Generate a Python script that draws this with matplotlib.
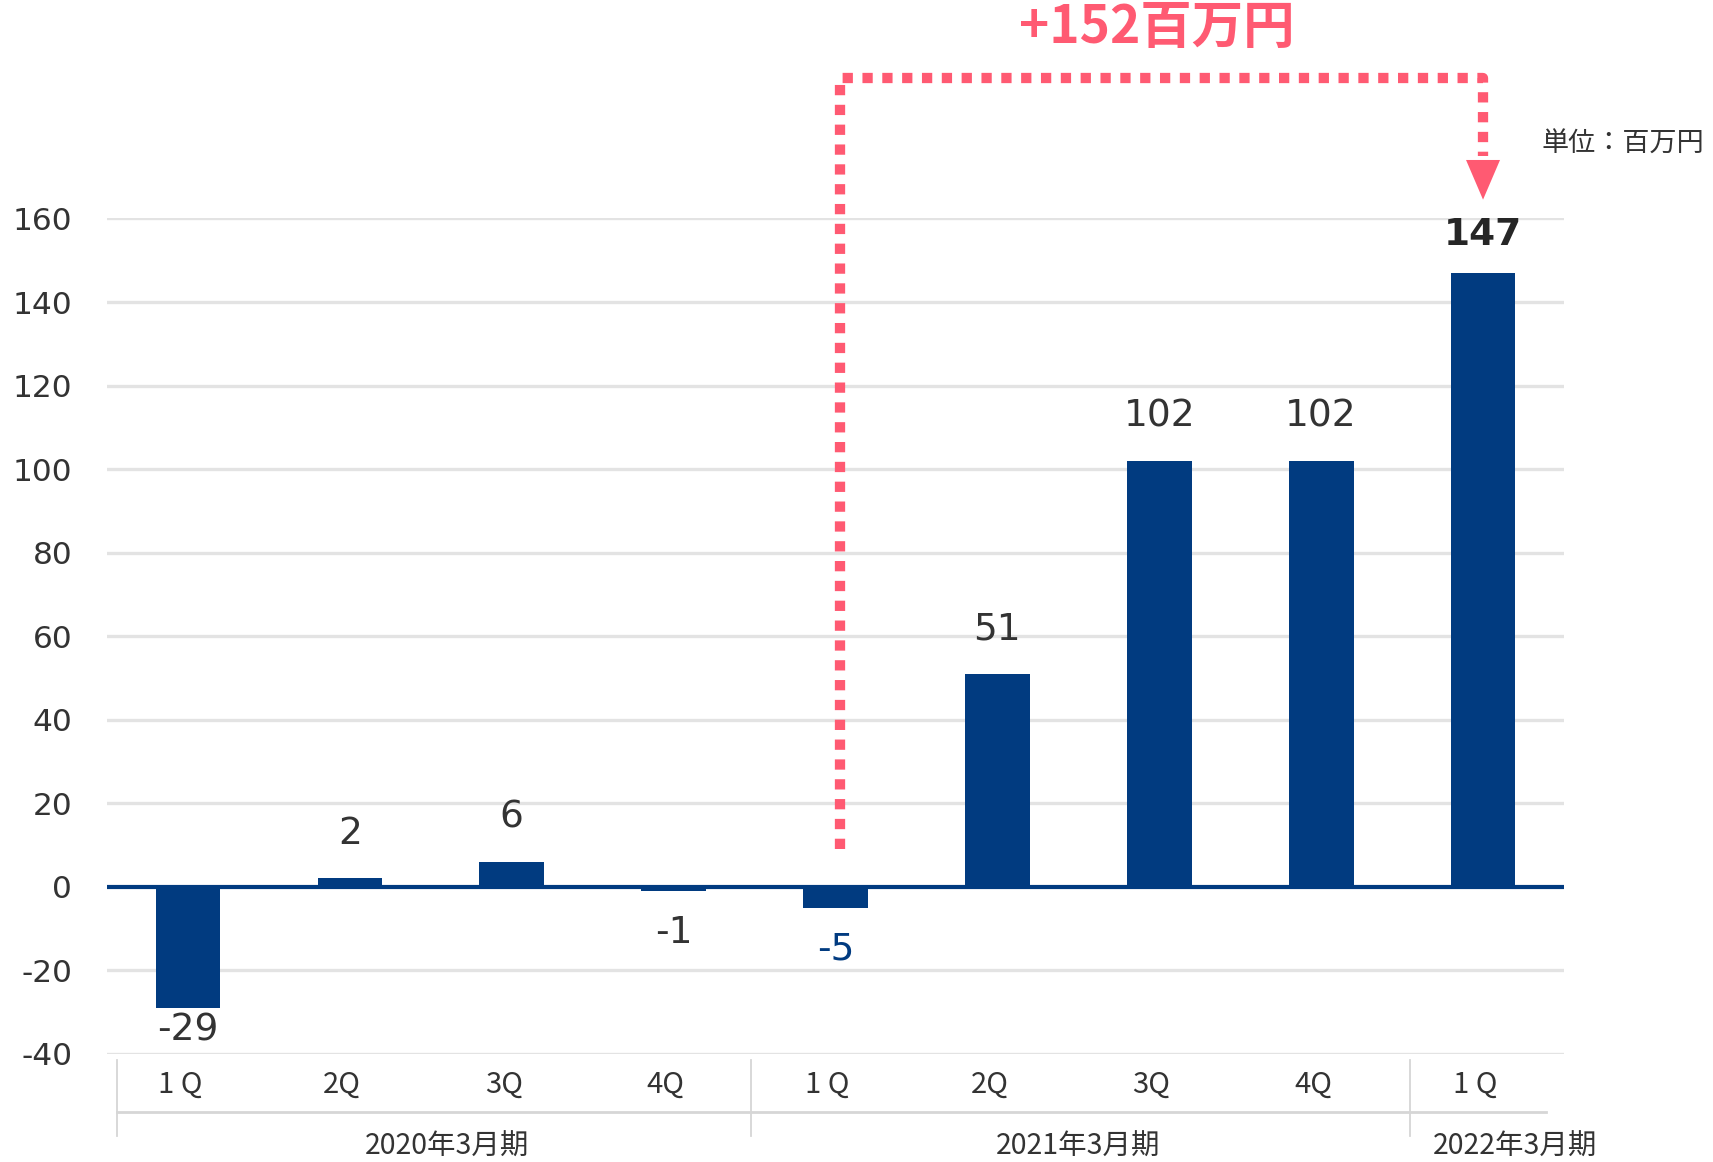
import matplotlib
matplotlib.use('Agg')
import matplotlib.pyplot as plt
import matplotlib.transforms as mtransforms

plt.rcParams['font.family'] = ['DejaVu Sans', 'Noto Sans CJK JP']

# データ
quarters = ['1 Q', '2Q', '3Q', '4Q', '1 Q', '2Q', '3Q', '4Q', '1 Q']
values = [-29, 2, 6, -1, -5, 51, 102, 102, 147]
years = ['2020年3月期', '2021年3月期', '2022年3月期']
year_centers = [1.6, 5.5, 8.2]
separators = [-0.44, 3.48, 7.55]
yticks = [-40, -20, 0, 20, 40, 60, 80, 100, 120, 140, 160]

navy = '#013B80'
pink = '#FF5A72'
grid = '#E3E3E3'
text = '#333333'
jp = 'Noto Sans CJK JP'

fig = plt.figure(figsize=(17.13, 11.62), dpi=100)
ax = fig.add_axes([0.0625, 0.093, 0.8505, 0.719])

x = list(range(len(values)))
ax.bar(x, values, width=0.4, color=navy, zorder=3)

ax.set_xlim(-0.5, 8.5)
ax.set_ylim(-40, 160)
ax.set_yticks(yticks)
ax.set_yticklabels([str(v) for v in yticks], fontsize=22.5, color=text)
ax.tick_params(axis='y', length=0, pad=25)
ax.set_xticks([])
for s in ax.spines.values():
    s.set_visible(False)
for v in yticks:
    if v == 0:
        ax.axhline(0, color=navy, lw=3, zorder=4)
    else:
        ax.axhline(v, color=grid, lw=2.4, zorder=1)

# 値ラベル
for i, v in enumerate(values):
    if v >= 0:
        off = 27 if i == len(values) - 1 else 32
    else:
        off = -16 if i == 0 else -30
    weight = 'bold' if i == len(values) - 1 else 'normal'
    if i == 4:
        color = navy
    elif weight == 'bold':
        color = '#262626'
    else:
        color = text
    ax.annotate(str(v), (i, v), xytext=(0, off), textcoords='offset points',
                ha='center', va='center', fontsize=27, color=color,
                fontweight=weight)

# カテゴリ軸（2段）
trans = mtransforms.blended_transform_factory(ax.transData, ax.transAxes)
for i, q in enumerate(quarters):
    ax.text(i - 0.05, -0.037, q, transform=trans, ha='center', va='center',
            fontsize=21, color=text, family=jp)
for sx in separators:
    ax.plot([sx, sx], [-0.007, -0.098], transform=trans, color='#D6D6D6',
            lw=1.3, clip_on=False)
ax.plot([separators[0], 8.39], [-0.069, -0.069], transform=trans,
        color='#D6D6D6', lw=2, clip_on=False)
for xc, yl in zip(year_centers, years):
    ax.text(xc, -0.111, yl, transform=trans, ha='center', va='center',
            fontsize=20.5, color=text, family=jp)

# 増加幅の矢印
ax.plot([4.03, 4.03, 8.0, 8.0], [9, 193.7, 193.7, 175], color=pink, lw=7.4,
        dashes=(1, 0.93), dash_capstyle='butt', solid_joinstyle='miter',
        clip_on=False, zorder=5)
ax.fill([7.895, 8.105, 8.0], [174, 174, 164.5], color=pink, clip_on=False,
        zorder=5, lw=0)
fig.text(0.675, 0.976, '+152百万円', ha='center', va='center', fontsize=37,
         color=pink, fontweight='bold', family=jp)
fig.text(0.995, 0.876, '単位：百万円', ha='right', va='center', fontsize=19.5,
         color=text, family=jp)

fig.savefig('out.png', dpi=100)
